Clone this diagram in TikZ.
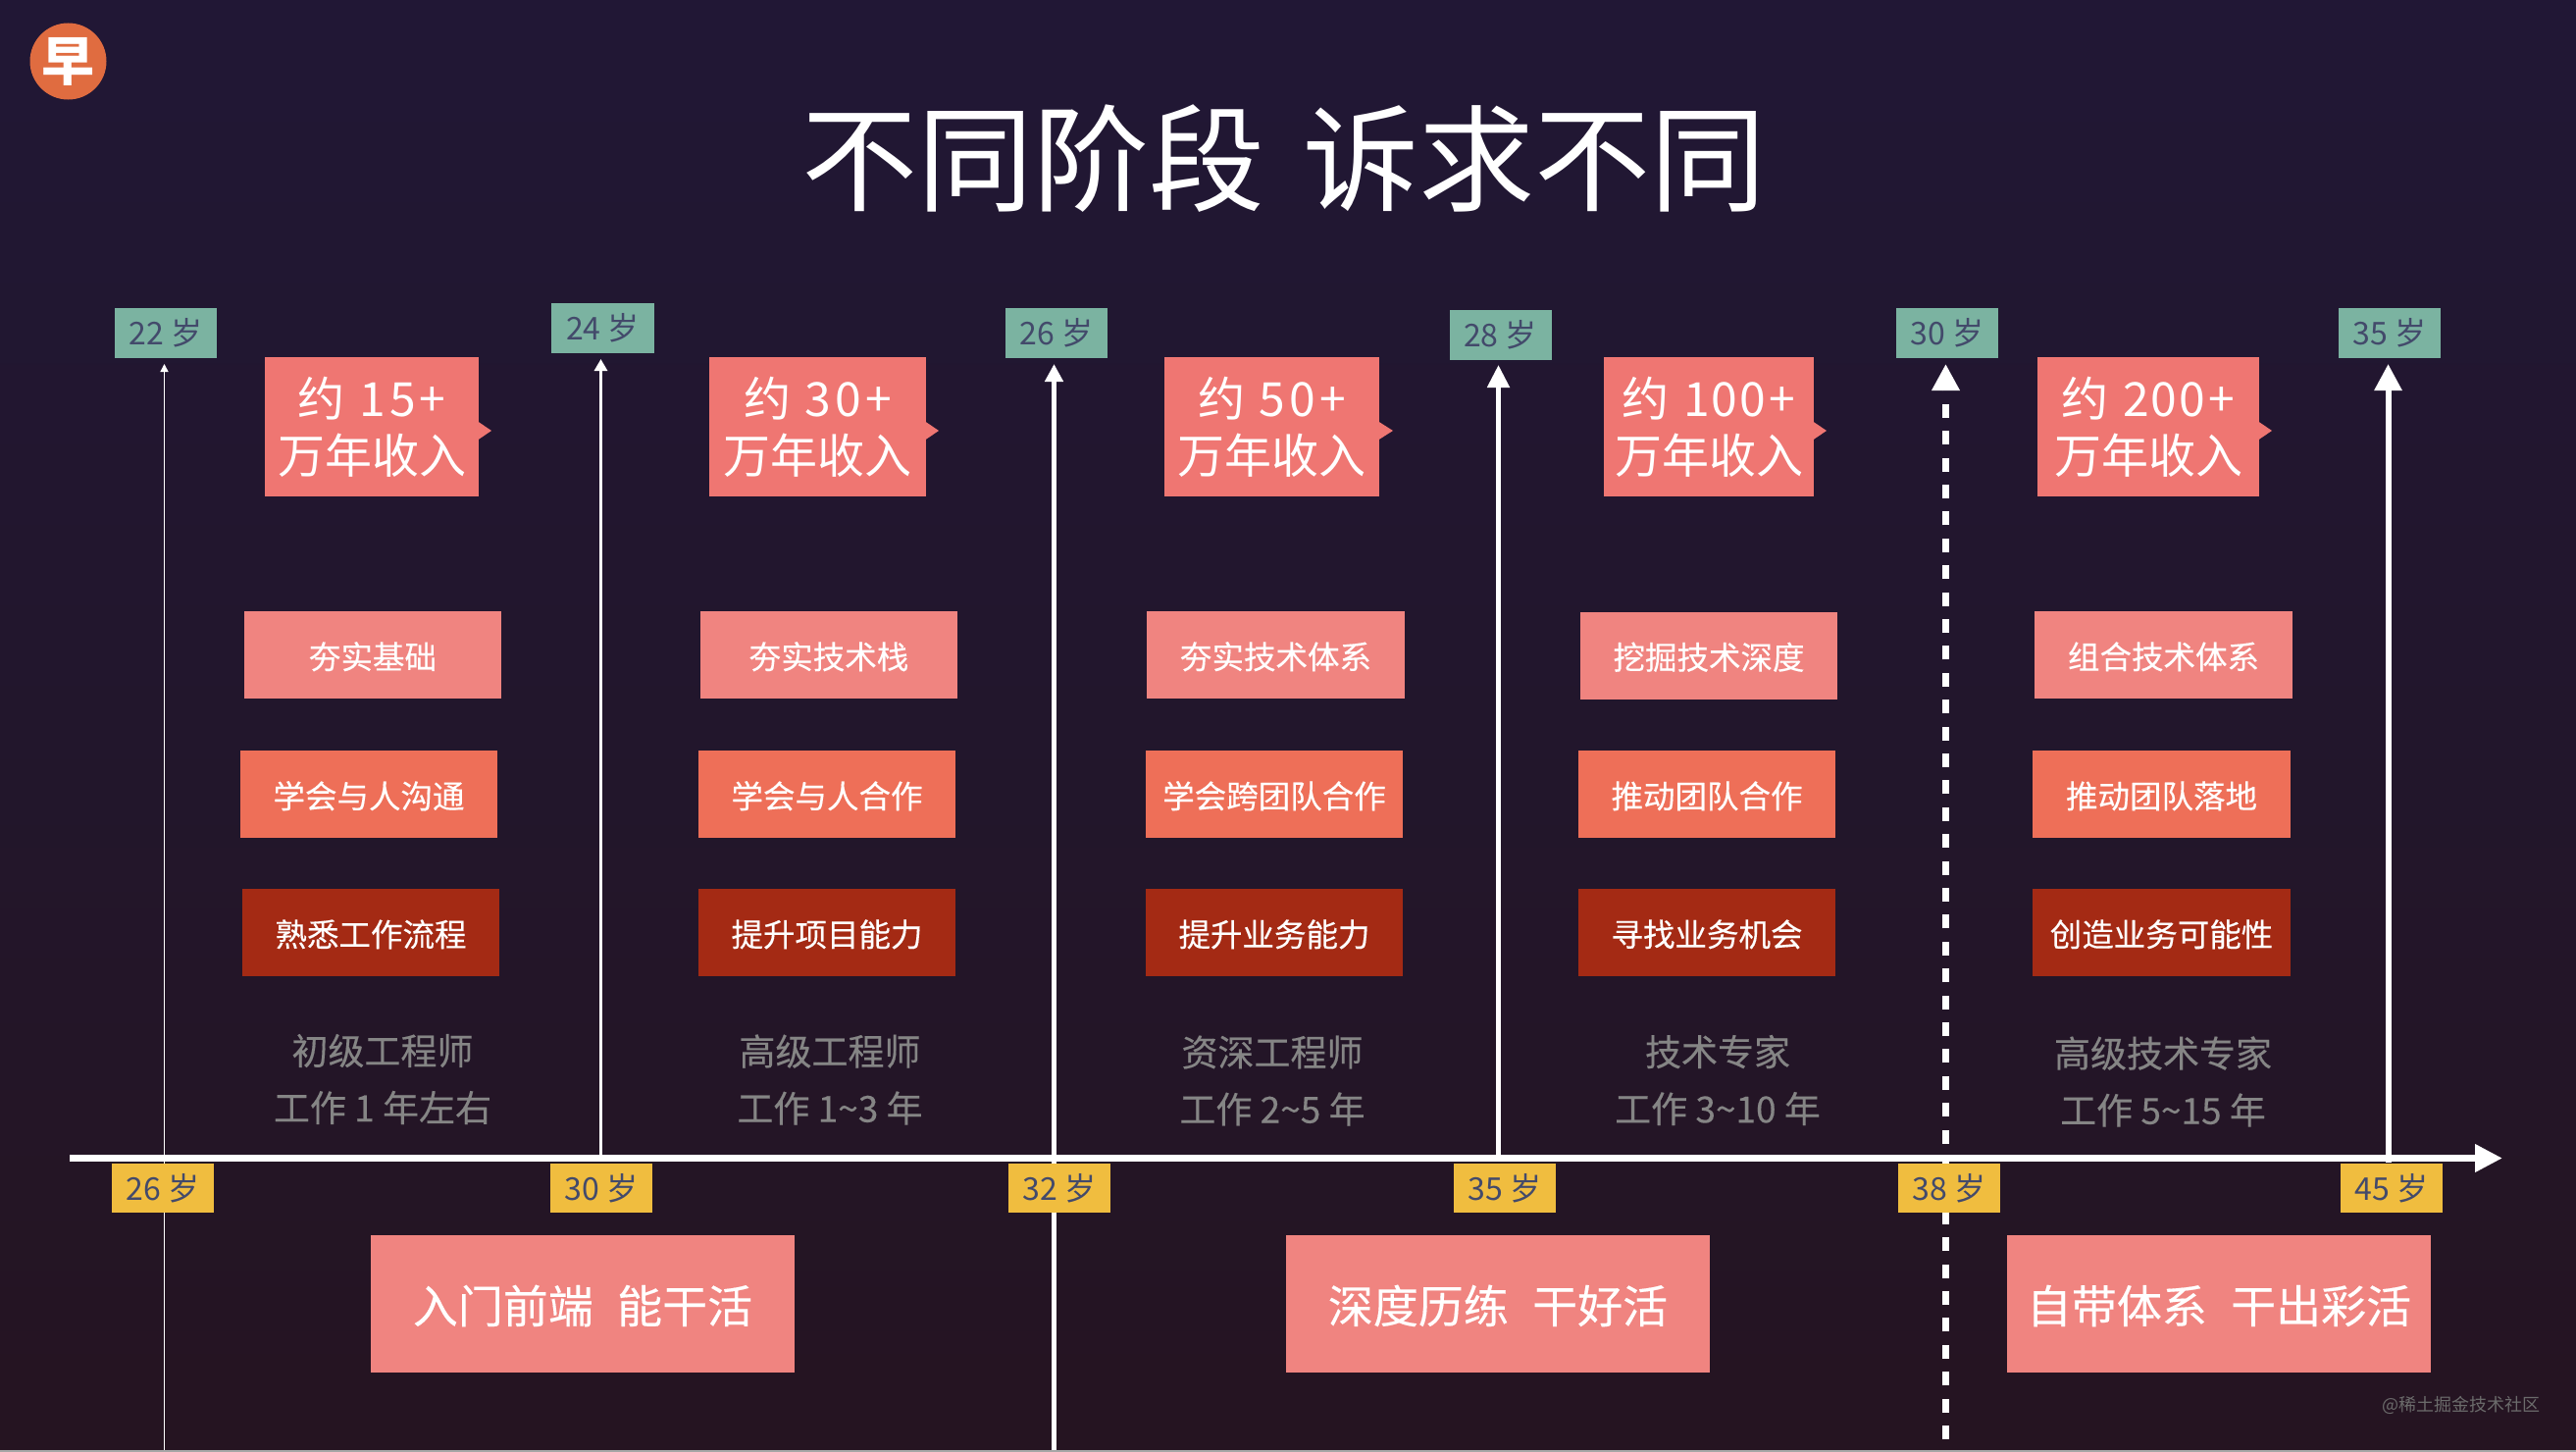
\documentclass[tikz,border=0pt]{standalone}
\usepackage{fontspec}
\setmainfont{Noto Sans CJK SC}
\newfontfamily\sturdy[FakeBold=0.3]{Noto Sans CJK SC}
\usetikzlibrary{arrows.meta}
\definecolor{bgtop}{HTML}{211735}
\definecolor{bgmid}{HTML}{22162C}
\definecolor{bgbot}{HTML}{251421}
\definecolor{tagink}{HTML}{434A6B}
\definecolor{taggreen}{HTML}{7BB3A1}
\definecolor{tagyellow}{HTML}{F0BD3F}
\definecolor{incomered}{HTML}{EF7672}
\definecolor{rowone}{HTML}{F08480}
\definecolor{rowtwo}{HTML}{EE6F58}
\definecolor{rowthree}{HTML}{A42A14}
\definecolor{logoorange}{HTML}{E06C40}
\definecolor{mutedgrey}{HTML}{858585}
\newcommand{\fs}[2]{\fontsize{#1}{#2}\selectfont}
\newcommand{\gap}{\hspace{4pt}}
\tikzset{
  box/.style={inner sep=0pt,outer sep=0pt,align=center,text=white},
  agetag/.style={box,minimum width=104pt,minimum height=51pt,text=tagink,font=\fs{32}{38}},
  greentag/.style={agetag,fill=taggreen},
  yellowtag/.style={agetag,fill=tagyellow,minimum height=50pt},
  income/.style={box,fill=incomered,minimum height=142pt,font=\fs{48}{58}},
  rowcard/.style={box,minimum width=262pt,minimum height=89pt,font=\sturdy\fs{32.5}{38},text height=30.7pt,text depth=2.3pt},
  skill/.style={rowcard,fill=rowone},
  team/.style={rowcard,fill=rowtwo},
  biz/.style={rowcard,fill=rowthree},
  role/.style={box,text=mutedgrey,font=\sturdy\fs{37}{58}},
  stage/.style={box,fill=rowone,minimum width=432pt,minimum height=140pt,font=\sturdy\fs{46}{54},text height=42pt,text depth=3pt},
  stem/.style={white,line cap=butt},
}
\newcommand{\pointer}[2]{\fill[incomered] (#1,429.5) -- (#2,439) -- (#1,448.5) -- cycle;}
\begin{document}
\begin{tikzpicture}[x=1pt,y=-1pt]
\useasboundingbox (0,0) rectangle (2626,1480);
% Page background and its lower edge
\shade[top color=bgtop,bottom color=bgbot,middle color=bgmid] (0,0) rectangle (2626,1480);
\fill[black!35] (0,1478) rectangle (2626,1480);

% Badge and heading
\node[circle,fill=logoorange,minimum size=78pt,inner sep=0pt,text=white,font=\fs{54}{60}\bfseries] (badge) at (69.5,62.5) {早};
\node[box,font=\fs{118}{130}] (title) at (1309,162) {不同阶段\hspace{12pt} 诉求不同};

% Anchor points of the timeline
\coordinate (axisL) at (71,1180.5);
\coordinate (axisR) at (2551,1180.5);
\coordinate (a22) at (167.5,1478);   \coordinate (b22) at (167.5,371);
\coordinate (a24) at (612.5,1180);   \coordinate (b24) at (612.5,366);
\coordinate (a26) at (1074.5,1478);  \coordinate (b26) at (1074.5,371);
\coordinate (a28) at (1527.5,1180);  \coordinate (b28) at (1527.5,372);
\coordinate (a30) at (1983.5,1467);  \coordinate (b30) at (1983.5,371);
\coordinate (a35) at (2434.5,1185);  \coordinate (b35) at (2434.5,371);

% Rising age markers
\draw[stem,line width=1.5pt,-{Triangle[length=8pt,width=8pt]}] (a22) -- (b22);
\draw[stem,line width=3pt,-{Triangle[length=12pt,width=13pt]}] (a24) -- (b24);
\draw[stem,line width=4.5pt,-{Triangle[length=18pt,width=18pt]}] (a26) -- (b26);
\draw[stem,line width=5pt,-{Triangle[length=23pt,width=22pt]}] (a28) -- (b28);
\draw[stem,line width=6.5pt,dash pattern=on 14pt off 13.4pt,-{Triangle[length=27pt,width=27pt]}] (a30) -- (b30);
\draw[stem,line width=6pt,-{Triangle[length=27pt,width=27pt]}] (a35) -- (b35);

% Horizontal time axis
\draw[stem,line width=7pt,-{Triangle[length=28pt,width=27pt]}] (axisL) -- (axisR);

% Upper age tags
\node[greentag] (g22) at (169,339.5) {22 岁};
\node[greentag,minimum width=105pt] (g24) at (614.5,334.5) {24 岁};
\node[greentag] (g26) at (1077,339.5) {26 岁};
\node[greentag] (g28) at (1529.5,341) {28 岁};
\node[greentag] (g30) at (1985,339.5) {30 岁};
\node[greentag] (g35) at (2436,339.5) {35 岁};

% Lower age tags
\node[yellowtag] (y26) at (166,1211) {26 岁};
\node[yellowtag] (y30) at (613,1211) {30 岁};
\node[yellowtag] (y32) at (1080,1211) {32 岁};
\node[yellowtag] (y35) at (1534,1211) {35 岁};
\node[yellowtag] (y38) at (1987,1211) {38 岁};
\node[yellowtag] (y45) at (2438,1211) {45 岁};

% Income call-outs
\pointer{487}{501}
\node[income,minimum width=218pt] (i15) at (379,435) {约\gap{} 1\gap 5\gap +\\万年收入};
\pointer{943}{957}
\node[income,minimum width=221pt] (i30) at (833.5,435) {约\gap{} 3\gap 0\gap +\\万年收入};
\pointer{1405}{1420}
\node[income,minimum width=219pt] (i50) at (1296.5,435) {约\gap{} 5\gap 0\gap +\\万年收入};
\pointer{1848}{1862}
\node[income,minimum width=214pt] (i100) at (1742,435) {约\gap{} 1\hspace{2pt}0\hspace{2pt}0\gap +\\万年收入};
\pointer{2302}{2316}
\node[income,minimum width=226pt] (i200) at (2190,435) {约\gap{} 2\hspace{2pt}0\hspace{2pt}0\gap +\\万年收入};

% Skill rows
\node[skill] (s1) at (380,667.5) {夯实基础};
\node[skill] (s2) at (845,667.5) {夯实技术栈};
\node[skill,minimum width=263pt] (s3) at (1300.5,667.5) {夯实技术体系};
\node[skill] (s4) at (1742,668) {挖掘技术深度};
\node[skill,minimum width=263pt] (s5) at (2205.5,667.5) {组合技术体系};

\node[team] (t1) at (376,809.5) {学会与人沟通};
\node[team] (t2) at (843,809.5) {学会与人合作};
\node[team] (t3) at (1299,809.5) {学会跨团队合作};
\node[team] (t4) at (1740,809.5) {推动团队合作};
\node[team,minimum width=263pt] (t5) at (2203.5,809.5) {推动团队落地};

\node[biz] (b1) at (378,950.5) {熟悉工作流程};
\node[biz] (b2) at (843,950.5) {提升项目能力};
\node[biz] (b3) at (1299,950.5) {提升业务能力};
\node[biz] (b4) at (1740,950.5) {寻找业务机会};
\node[biz,minimum width=263pt] (b5) at (2203.5,950.5) {创造业务可能性};

% Role and experience captions
\node[role] (r1) at (390,1100) {初级工程师\\工作 1 年左右};
\node[role] (r2) at (846,1100.5) {高级工程师\\工作 1\textasciitilde 3 年};
\node[role] (r3) at (1297,1101.5) {资深工程师\\工作 2\textasciitilde 5 年};
\node[role] (r4) at (1751,1101) {技术专家\\工作 3\textasciitilde 10 年};
\node[role] (r5) at (2205,1102.5) {高级技术专家\\工作 5\textasciitilde 15 年};

% Career stages
\node[stage] (st1) at (594,1329) {入门前端\hspace{14pt} 能干活};
\node[stage] (st2) at (1527,1329) {深度历练\hspace{14pt} 干好活};
\node[stage] (st3) at (2262,1329) {自带体系\hspace{14pt} 干出彩活};

% Community credit
\node[box,text=black!58,font=\fs{18}{24},anchor=east] (credit) at (2589,1432) {@稀土掘金技术社区};
\end{tikzpicture}
\end{document}
